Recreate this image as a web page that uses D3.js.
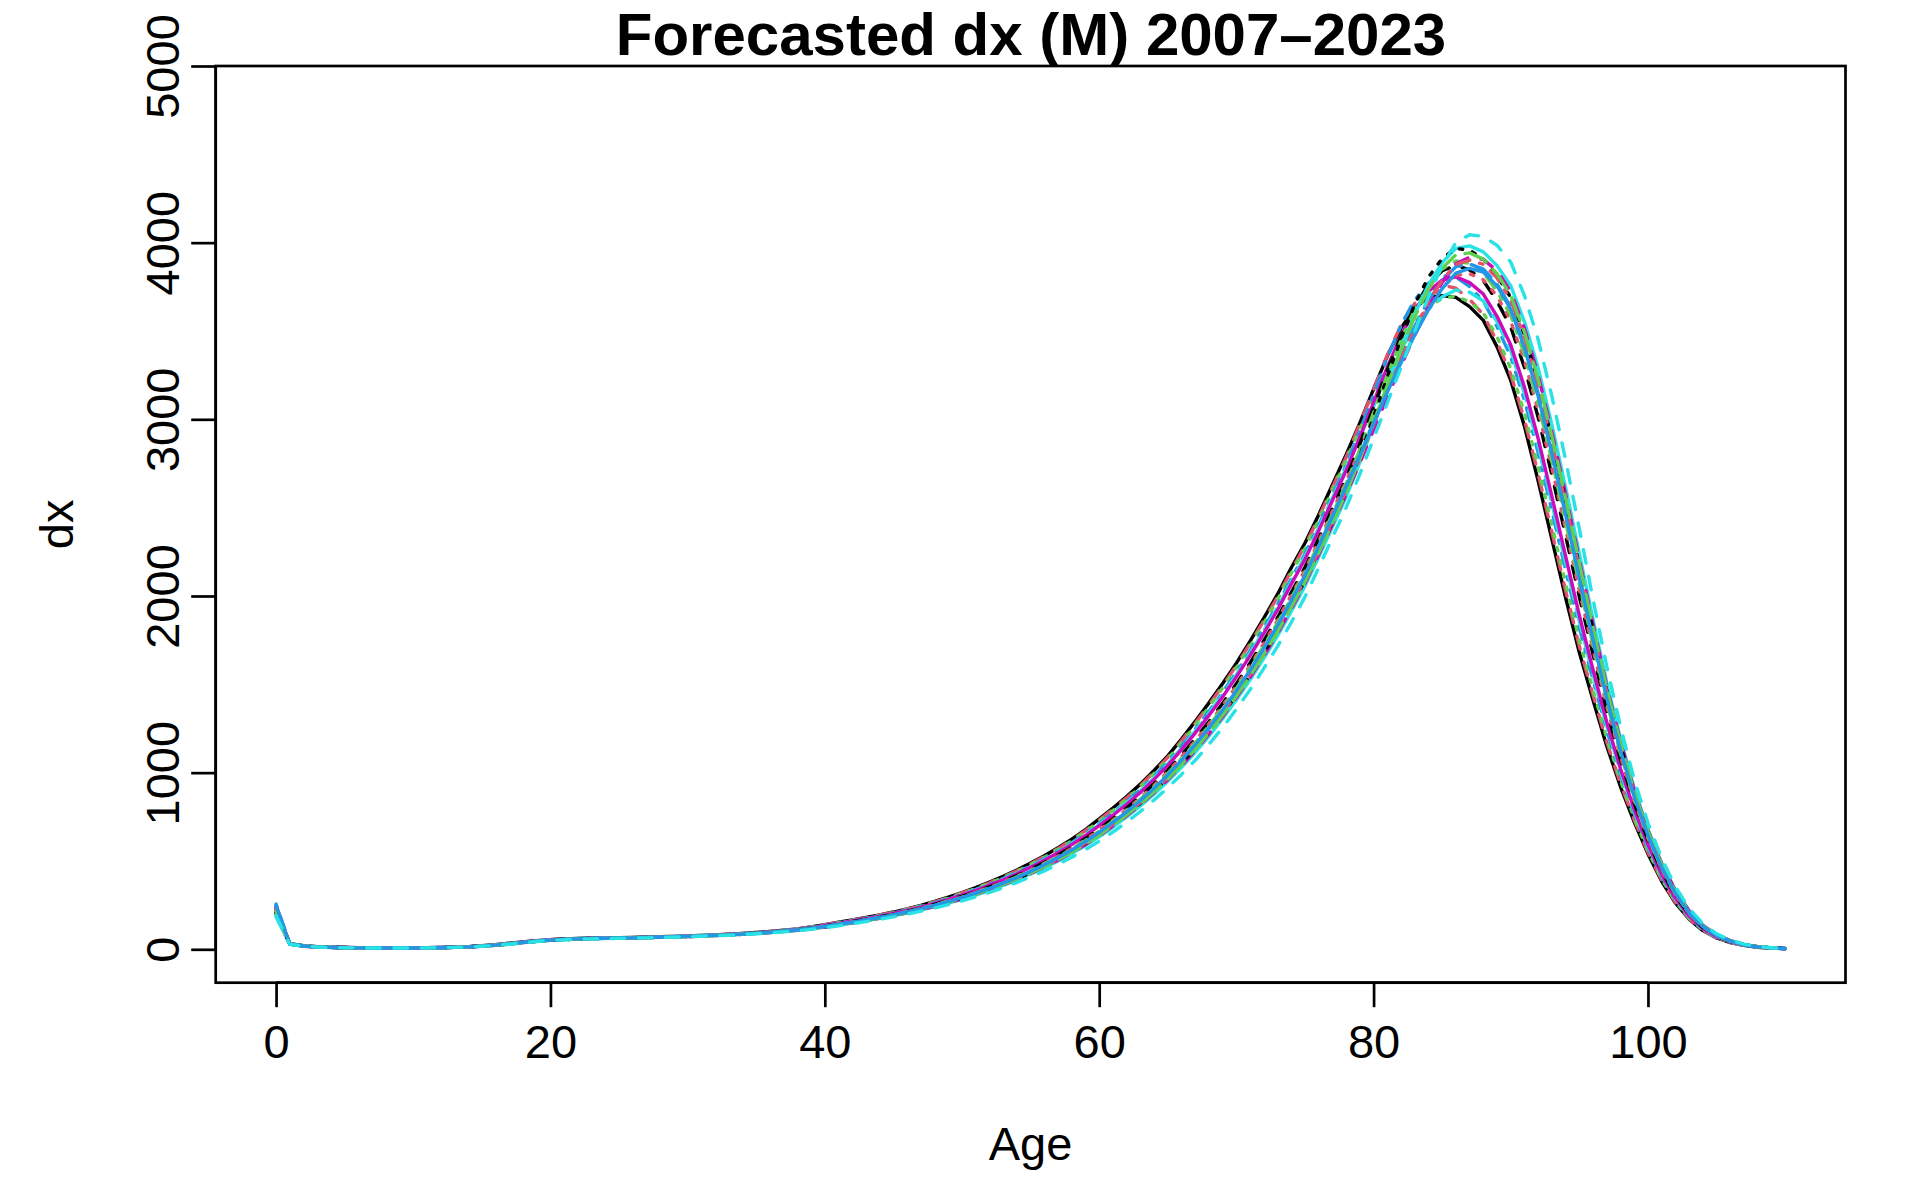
<!DOCTYPE html>
<html><head><meta charset="utf-8">
<script src="https://cdn.jsdelivr.net/npm/d3@7"></script>
<style>html,body{margin:0;padding:0;background:#fff;} svg{display:block;}</style>
</head><body>
<svg id="chart" width="1911" height="1181"></svg>
<script>
const ages = [0,1,2,3,4,5,6,7,8,9,10,11,12,13,14,15,16,17,18,19,20,21,22,23,24,25,26,27,28,29,30,31,32,33,34,35,36,37,38,39,40,41,42,43,44,45,46,47,48,49,50,51,52,53,54,55,56,57,58,59,60,61,62,63,64,65,66,67,68,69,70,71,72,73,74,75,76,77,78,79,80,81,82,83,84,85,86,87,88,89,90,91,92,93,94,95,96,97,98,99,100,101,102,103,104,105,106,107,108,109,110];
const years = [2007,2008,2009,2010,2011,2012,2013,2014,2015,2016,2017,2018,2019,2020,2021,2022,2023];
const xTicks = [0,20,40,60,80,100];
const yTicks = [0,1000,2000,3000,4000,5000];

const dx2007 = [215,32,20,15,12,10,9,8,8,8,8,9,10,12,15,20,26,34,42,49,55,59,62,64,65,66,67,69,71,73,76,79,82,86,90,95,101,108,116,127,
  140,153,166,180,195,211,229,249,271,295,321,349,380,413,449,488,530,575,624,678,738,800,865,935,1012,1095,1190,1290,1395,1505,
  1620,1745,1875,2010,2160,2300,2460,2630,2800,2980,3171,3358,3516,3630,3690,3700,3690,3638,3560,3410,
  3220,2960,2650,2320,1990,1680,1410,1150,920,720,540,385,262,170,106,64,38,22,12,7,4];
const dx2008 = [225,32,20,15,12,10,9,8,8,8,8,9,10,12,15,20,26,34,42,49,55,59,62,64,65,66,67,69,71,73,76,79,82,86,90,95,101,108,115,126,
  139,152,165,179,194,210,227,247,269,293,319,346,377,410,445,484,526,570,619,672,732,793,858,927,1004,1086,1180,1279,1383,1492,
  1607,1731,1861,1995,2144,2285,2445,2615,2785,2974,3168,3364,3532,3656,3733,3760,3742,3679,3593,3439,
  3254,2997,2690,2361,2029,1715,1439,1173,937,732,549,392,267,173,108,65,39,22,12,7,4];
const dx2009 = [220,32,20,15,12,10,9,8,8,8,8,9,10,12,15,20,26,33,41,48,54,58,61,63,65,66,67,69,71,73,75,78,81,85,89,94,100,107,115,126,
  138,151,164,178,192,208,226,246,267,291,316,344,374,407,442,480,521,566,614,667,725,786,850,919,995,1077,1170,1268,1371,1480,
  1594,1717,1846,1980,2129,2269,2430,2600,2770,2945,3120,3293,3439,3553,3635,3684,3697,3665,3602,3468,
  3287,3034,2730,2401,2068,1750,1467,1195,954,744,558,398,271,176,110,66,39,23,12,7,4];
const dx2010 = [256,31,20,15,12,10,9,8,8,8,8,9,10,12,15,19,25,33,41,48,54,58,61,63,64,65,66,68,70,72,75,78,81,85,89,94,99,106,114,124,
  136,149,162,175,190,206,223,242,264,287,312,339,368,400,435,472,513,556,603,655,713,773,836,904,979,1059,1150,1246,1348,1455,
  1568,1690,1818,1951,2098,2239,2400,2570,2740,2936,3140,3348,3533,3676,3770,3813,3806,3751,3669,3525,
  3354,3108,2810,2482,2146,1820,1524,1240,988,768,575,411,281,182,114,69,41,23,13,7,4];
const dx2011 = [200,31,19,14,11,10,9,8,8,8,8,9,10,12,14,19,25,33,41,48,54,58,61,63,64,65,66,68,70,72,75,78,81,84,88,93,99,106,113,123,
  135,148,161,174,189,204,221,241,262,284,309,336,365,397,431,468,508,551,598,650,706,766,829,896,970,1050,1140,1235,1336,1442,
  1555,1676,1804,1936,2082,2224,2385,2555,2725,2898,3074,3246,3396,3522,3623,3694,3732,3719,3670,3554,
  3388,3145,2850,2523,2185,1855,1553,1263,1005,780,584,418,285,186,116,70,42,24,13,8,4];
const dx2012 = [235,31,19,14,11,10,9,8,8,8,8,9,10,12,14,19,25,32,40,47,53,57,60,62,64,65,66,68,70,72,74,77,80,84,88,93,99,105,113,123,
  135,147,160,173,187,203,220,239,260,282,307,333,363,394,428,465,504,547,593,644,700,759,821,888,962,1041,1130,1224,1324,1430,
  1542,1662,1789,1921,2067,2208,2370,2540,2710,2899,3096,3295,3473,3619,3725,3788,3807,3774,3709,3583,
  3421,3182,2890,2563,2224,1890,1581,1285,1022,792,593,424,290,189,118,71,42,24,13,8,4];
const dx2013 = [210,30,19,14,11,10,9,8,8,8,8,9,10,12,14,19,24,32,40,47,53,57,60,62,63,64,65,67,69,71,74,77,80,83,87,92,97,104,111,121,
  132,144,157,170,184,199,215,234,254,276,300,326,354,384,417,453,491,533,578,627,681,739,800,865,937,1014,1100,1191,1289,1392,
  1503,1621,1747,1877,2020,2163,2325,2495,2665,2860,3068,3278,3473,3638,3763,3841,3872,3846,3785,3669,
  3522,3293,3010,2685,2341,1995,1667,1353,1073,828,619,444,304,198,124,75,44,25,14,8,4];
const dx2014 = [230,30,19,14,11,9,8,7,7,7,7,8,9,11,14,18,24,31,39,46,52,56,59,61,63,64,65,67,69,71,73,76,79,83,87,91,97,103,110,120,
  131,143,155,168,182,197,214,232,252,274,297,323,351,381,413,449,487,528,572,621,675,732,792,857,928,1005,1090,1180,1277,1380,
  1490,1607,1732,1862,2005,2147,2310,2480,2650,2827,3012,3195,3362,3515,3645,3747,3815,3824,3790,3698,
  3555,3330,3050,2725,2380,2030,1695,1375,1090,840,628,450,309,201,126,76,45,26,14,8,5];
const dx2015 = [215,30,19,14,11,9,8,7,7,7,7,8,9,11,14,18,24,31,39,46,52,56,59,61,63,64,65,67,69,71,73,76,79,83,87,91,97,103,110,119,
  130,142,154,167,181,196,212,231,251,272,295,320,348,378,410,445,483,523,567,616,669,725,785,850,920,996,1080,1169,1266,1367,
  1477,1594,1718,1848,1989,2132,2295,2465,2635,2829,3038,3249,3447,3621,3758,3850,3897,3883,3830,3726,
  3589,3367,3090,2766,2419,2065,1724,1398,1107,852,636,457,313,204,127,77,46,26,14,8,5];
const dx2016 = [250,30,19,14,11,9,8,7,7,7,7,8,9,11,14,18,24,31,39,46,52,56,59,61,63,64,65,67,69,71,73,76,79,82,86,91,96,103,109,118,
  129,141,153,166,179,194,210,229,248,269,292,317,344,373,405,440,477,517,560,608,660,716,775,839,908,983,1066,1154,1249,1350,
  1459,1574,1698,1827,1968,2111,2274,2444,2614,2795,2988,3179,3359,3527,3671,3786,3864,3879,3850,3767,
  3635,3419,3146,2822,2474,2114,1763,1429,1131,869,649,466,320,208,130,79,47,26,14,8,5];
const dx2017 = [185,29,18,13,10,9,8,7,7,7,7,8,9,11,13,18,23,30,38,45,51,55,58,60,62,63,64,66,68,70,72,75,78,81,85,89,95,101,107,116,
  126,137,149,162,175,189,205,223,241,261,283,307,334,362,392,426,461,500,542,588,637,691,749,811,878,951,1030,1114,1207,1305,
  1412,1525,1647,1774,1912,2056,2220,2390,2560,2756,2970,3186,3397,3594,3760,3887,3968,3982,3948,3870,
  3756,3552,3290,2968,2614,2240,1866,1510,1192,912,680,489,336,220,137,83,49,28,15,9,5];
const dx2018 = [240,29,18,13,10,9,8,7,7,7,7,8,9,11,13,18,23,30,38,45,51,55,58,60,62,63,64,66,68,70,72,75,78,81,85,90,95,101,108,116,
  126,138,150,163,176,191,206,224,243,263,286,310,336,365,396,429,465,504,547,593,643,698,756,819,887,960,1040,1125,1219,1317,
  1425,1539,1661,1789,1927,2071,2235,2405,2575,2751,2940,3125,3302,3477,3638,3775,3881,3918,3905,3841,
  3723,3515,3250,2928,2575,2205,1838,1488,1175,900,671,483,332,217,135,82,49,27,15,9,5];
const dx2019 = [205,29,19,14,11,9,8,7,7,7,7,8,9,11,14,18,23,30,38,45,51,55,58,60,62,63,64,66,68,70,72,75,78,82,86,90,95,102,108,117,
  127,139,151,164,177,192,208,226,245,266,288,313,339,368,399,433,470,509,552,599,650,705,763,826,895,969,1050,1136,1230,1330,
  1438,1552,1675,1803,1943,2086,2250,2420,2590,2792,3013,3239,3456,3651,3805,3911,3967,3958,3908,3813,
  3689,3478,3210,2887,2536,2170,1809,1465,1158,888,663,476,327,213,133,81,48,27,15,8,5];
const dx2020 = [220,29,19,14,11,9,8,7,7,7,7,8,9,11,14,18,23,31,39,46,52,56,59,61,62,63,64,66,68,70,73,76,79,82,86,90,96,102,109,117,
  128,139,152,164,178,193,209,227,246,266,289,314,341,369,401,435,472,511,554,601,652,708,766,830,898,973,1054,1140,1235,1335,
  1443,1558,1681,1809,1949,2093,2256,2426,2596,2777,2969,3160,3340,3512,3664,3788,3877,3901,3877,3801,
  3676,3463,3194,2871,2520,2156,1798,1456,1151,883,659,473,325,212,133,80,48,27,15,8,5];
const dx2021 = [212,29,19,14,11,9,8,7,7,7,7,8,9,11,14,18,23,30,38,45,51,55,58,60,62,63,64,66,68,70,72,75,78,82,86,90,95,102,108,117,
  127,139,151,163,177,192,207,225,244,265,287,312,338,367,398,432,468,507,550,597,647,702,761,823,892,965,1046,1132,1226,1325,
  1433,1547,1670,1798,1937,2080,2244,2414,2584,2776,2984,3192,3394,3580,3736,3856,3931,3942,3907,3824,
  3702,3493,3226,2903,2552,2184,1820,1474,1165,893,666,479,329,215,134,81,48,27,15,8,5];
const dx2022 = [245,30,19,14,11,9,8,7,7,7,7,8,9,11,14,18,24,31,39,46,52,56,59,61,63,64,65,67,69,71,73,76,79,82,86,91,96,103,109,119,
  129,141,153,166,180,195,211,229,249,270,293,318,345,375,406,441,478,519,562,610,662,718,778,842,912,987,1070,1158,1254,1355,
  1464,1580,1704,1833,1974,2117,2280,2450,2620,2794,2976,3154,3320,3478,3620,3740,3828,3854,3833,3755,
  3622,3404,3130,2806,2458,2100,1752,1420,1124,864,645,463,318,207,129,78,46,26,14,8,5];
const dx2023 = [190,28,18,13,10,9,8,7,7,7,7,8,9,11,13,17,22,29,37,44,50,54,57,59,61,62,63,65,67,69,71,74,77,80,84,88,93,99,105,113,
  122,133,145,157,170,184,199,216,234,253,274,297,322,349,378,410,444,481,521,565,612,664,720,780,845,915,990,1070,1160,1255,
  1360,1470,1590,1715,1850,1995,2160,2330,2500,2690,2890,3092,3294,3500,3695,3870,4000,4045,4035,3985,
  3890,3700,3450,3130,2770,2380,1980,1600,1260,960,715,515,355,232,145,88,52,29,16,9,5];

const seriesData = [dx2007,dx2008,dx2009,dx2010,dx2011,dx2012,dx2013,dx2014,dx2015,dx2016,dx2017,dx2018,dx2019,dx2020,dx2021,dx2022,dx2023];

// R default palette and matplot line-type cycle (lty 1..5)
const palette = ["#000000","#DF536B","#61D04F","#2297E6","#28E2E5","#CD0BBC"];
const dashes = [null, "13.6,13.6", "3.4,10.2", "3.4,10.2,13.6,10.2", "23.8,10.2"];

const svg = d3.select("#chart");
const FONT = "'Liberation Sans', Arial, Helvetica, sans-serif";
const L = 215.7, R = 1845.5, T = 66, B = 982.7;

const x = d3.scaleLinear().domain([-4.4, 114.4]).range([L, R]);
const y = d3.scaleLinear().domain([-189, 5000]).range([B, T]);

svg.append("rect").attr("width",1911).attr("height",1181).attr("fill","#fff");

svg.append("clipPath").attr("id","clip").append("rect")
  .attr("x",L).attr("y",T).attr("width",R-L).attr("height",B-T);
const lineGen = d3.line().x((d,i)=>x(ages[i])).y(d=>y(d));
const g = svg.append("g").attr("clip-path","url(#clip)");
seriesData.forEach((s,i)=>{
  g.append("path").attr("d", lineGen(s))
    .attr("fill","none")
    .attr("stroke", palette[i%6])
    .attr("stroke-width", 3.4)
    .attr("stroke-linejoin","round")
    .attr("stroke-linecap","round")
    .attr("stroke-dasharray", dashes[i%5]);
});

// frame
svg.append("rect").attr("x",L).attr("y",T).attr("width",R-L).attr("height",B-T)
  .attr("fill","none").attr("stroke","#000").attr("stroke-width",2.7);

// x axis
const xAxis = svg.append("g").attr("transform",`translate(0,${B})`)
  .call(d3.axisBottom(x).tickValues(xTicks).tickFormat(d3.format("d")).tickSize(24.5).tickSizeOuter(0).tickPadding(0));
xAxis.select(".domain").attr("d",`M${x(xTicks[0])},0H${x(xTicks[xTicks.length-1])}`).attr("stroke-width",2.7);
xAxis.selectAll(".tick line").attr("stroke-width",2.7);
xAxis.selectAll(".tick text").attr("y",75.3).attr("dy",null)
  .style("font-family",FONT).style("font-size","47px").attr("fill","#000");

// y axis
const yAxis = svg.append("g").attr("transform",`translate(${L},0)`)
  .call(d3.axisLeft(y).tickValues(yTicks).tickFormat(d3.format("d")).tickSize(24.5).tickSizeOuter(0).tickPadding(0));
yAxis.select(".domain").attr("d",`M0,${y(yTicks[0])}V${y(yTicks[yTicks.length-1])}`).attr("stroke-width",2.7);
yAxis.selectAll(".tick line").attr("stroke-width",2.7);
yAxis.selectAll(".tick text")
  .attr("transform","rotate(-90)")
  .attr("x",0).attr("y",-37.2).attr("dy",null)
  .attr("text-anchor","middle")
  .style("font-family",FONT).style("font-size","47px").attr("fill","#000");

// titles
svg.append("text").attr("x",1031).attr("y",55).attr("text-anchor","middle")
  .style("font-family",FONT).style("font-size","60px").style("font-weight","bold")
  .text("Forecasted dx (M) 2007\u20132023");
svg.append("text").attr("x",(L+R)/2).attr("y",1160).attr("text-anchor","middle")
  .style("font-family",FONT).style("font-size","47px").text("Age");
svg.append("text").attr("transform",`translate(73,${(T+B)/2}) rotate(-90)`).attr("text-anchor","middle")
  .style("font-family",FONT).style("font-size","47px").text("dx");
</script>
</body></html>
